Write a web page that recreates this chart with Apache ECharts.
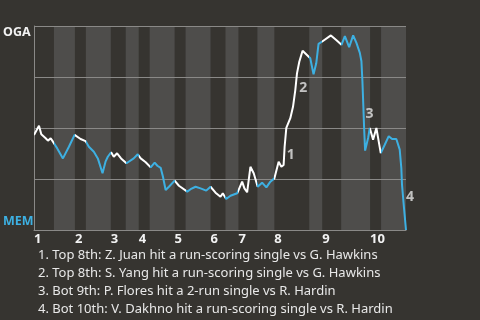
<!DOCTYPE html>
<html><head><meta charset="utf-8">
<script src="https://cdn.jsdelivr.net/npm/echarts@6/dist/echarts.min.js"></script>
<style>html,body{margin:0;padding:0;background:#363430}#c{width:480px;height:320px}</style>
</head><body><div id="c"></div>
<script>
// game progress (arbitrary units along the x axis) and OGA win probability (%)
const progress = [0,5,7.3,11.7,14,16.7,19,23.3,29,35,40.7,46.7,51.7,55,60,64,68.7,71.7,74,77.3,80,83.3,87.3,92.7,100,104,107,112,117,121,123.7,127,129.3,132,135.3,141,145.3,153.7,157,162,167,172.7,177,182,187,189.3,192.7,197,203.7,208.7,211,213.7,217,220.3,224.3,228.7,233,237,241,245.3,248,250.3,251.3,253,257,259.7,262,263.7,266,269.3,273.7,277,280.3,283,285.3,289,297.7,303.3,308.3,311.7,316,320,323.3,326.7,328.3,329.3,330.3,331,332,335,336.7,340,343.3,347.7,351.7,355.7,359,363.3,366.7,368.3,369,371,373];
const ogaWinPct = [46.6,51.1,46.9,45.0,43.8,45.0,43.3,40.0,35.1,40.8,46.6,44.6,43.6,40.8,38.4,35.1,27.8,33.5,35.9,38.1,35.9,37.6,35.1,32.7,35.1,37.1,35.1,33.2,30.7,33.0,31.5,30.5,26.1,19.6,21.2,24.2,21.7,18.8,20.0,21.2,20.4,19.3,21.2,18.3,16.3,18.0,15.2,16.8,18.0,23.7,20.4,18.5,31.0,27.8,21.2,23.2,20.9,23.7,25.3,33.5,31.0,31.9,40.8,50.1,54.8,60.4,68.6,76.8,82.5,87.9,85.8,84.2,76.3,81.7,91.2,92.4,95.4,93.0,90.8,95.0,89.6,95.4,91.7,86.8,82.7,72.9,59.8,50.0,38.9,45.1,50.0,44.3,50.0,37.7,41.8,46.0,44.6,44.6,39.4,30.4,22.2,10.8,0];
// half-inning start positions (top 1, bot 1, top 2, ...)
const halfInningStarts = [0,20,41,52,77,92,105,116,141,152,177,192,205,224,241,276,289,308,337,348];
const gameEnd = 373;
const inningLabels = ['1','2','3','4','5','6','7','8','9','10'];
const eventPointIndex = [62,66,86,101];
const eventLabels = ['1','2','3','4'];
const notes = [
  '1. Top 8th: Z. Juan hit a run-scoring single vs G. Hawkins',
  '2. Top 8th: S. Yang hit a run-scoring single vs G. Hawkins',
  '3. Bot 9th: P. Flores hit a 2-run single vs R. Hardin',
  '4. Bot 10th: V. Dakhno hit a run-scoring single vs R. Hardin'
];

const FONT = 'Noto Sans';
const BLUE = '#3db0e2', WHITE = '#ffffff', GRIDC = '#8a8987', BAND = '#4e4d4b';
const labelOffsets = [[0,8],[2,-2],[0,6],[0,-11]];

const inningStarts = halfInningStarts.filter((_, i) => i % 2 === 0);
const bandEnds = halfInningStarts.slice(1).concat([gameEnd]);
const bandAreas = [];
const pieces = [];
halfInningStarts.forEach((s, i) => {
  const e = bandEnds[i];
  if (i % 2 === 1) bandAreas.push([{xAxis: s}, {xAxis: e}]);
  const p = {gte: s, color: i % 2 === 1 ? BLUE : WHITE};
  if (i === halfInningStarts.length - 1) p.lte = e + 1; else p.lt = e;
  pieces.push(p);
});
const lineData = progress.map((x, i) => [x, ogaWinPct[i]]);
const eventData = eventPointIndex.map((idx, k) => ({
  value: [progress[idx], ogaWinPct[idx]],
  label: {offset: labelOffsets[k], formatter: eventLabels[k]}
}));

const chart = echarts.init(document.getElementById('c'), null, {renderer: 'canvas'});
chart.setOption({
  backgroundColor: '#363430',
  animation: false,
  textStyle: {fontFamily: FONT},
  title: {
    text: notes.join('\n'), left: 33, top: 241,
    textStyle: {fontFamily: FONT, fontSize: 13, fontWeight: 'normal', color: '#e8e8e8', lineHeight: 18}
  },
  grid: {left: 33, right: 74, top: 26, bottom: 90},
  xAxis: {
    type: 'value', min: 0, max: gameEnd,
    axisLine: {show: true, lineStyle: {color: GRIDC, width: 1}},
    axisTick: {show: false}, splitLine: {show: false},
    axisLabel: {
      customValues: inningStarts,
      formatter: v => inningLabels[inningStarts.indexOf(v)],
      align: 'left', margin: 3, color: '#f2f2f2', fontWeight: 'bold', fontSize: 13, fontFamily: FONT
    }
  },
  yAxis: [{
    type: 'value', min: 0, max: 100, interval: 25, z: 3,
    axisLine: {show: true, lineStyle: {color: GRIDC, width: 1}},
    axisTick: {show: false},
    splitLine: {show: true, lineStyle: {color: GRIDC, width: 1}},
    axisLabel: {customValues: [100], formatter: () => 'OGA', verticalAlign: 'top', align: 'left', margin: 31,
      color: '#f2f2f2', fontWeight: 'bold', fontSize: 12.5, fontFamily: FONT}
  }, {
    type: 'value', min: 0, max: 100, interval: 25, position: 'left', z: 3,
    axisLine: {show: false}, axisTick: {show: false}, splitLine: {show: false},
    axisLabel: {customValues: [0], formatter: () => 'MEM', verticalAlign: 'bottom', align: 'left', margin: 31,
      color: BLUE, fontWeight: 'bold', fontSize: 12.5, fontFamily: FONT, padding: [0, 0, 2, 0]}
  }],
  visualMap: {type: 'piecewise', show: false, dimension: 0, seriesIndex: 1, pieces: pieces},
  series: [{
    type: 'line', data: [], z: 1, silent: true,
    markArea: {silent: true, itemStyle: {color: BAND, opacity: 1}, data: bandAreas}
  }, {
    type: 'line', data: lineData, z: 5, showSymbol: false, symbol: 'none',
    lineStyle: {width: 2}
  }, {
    type: 'scatter', data: eventData, z: 6, symbolSize: 0,
    itemStyle: {color: 'rgba(0,0,0,0)'},
    label: {show: true, position: 'right', distance: 2, color: '#e6e6e6', fontWeight: 'bold', fontSize: 14, fontFamily: FONT}
  }]
});
</script></body></html>
